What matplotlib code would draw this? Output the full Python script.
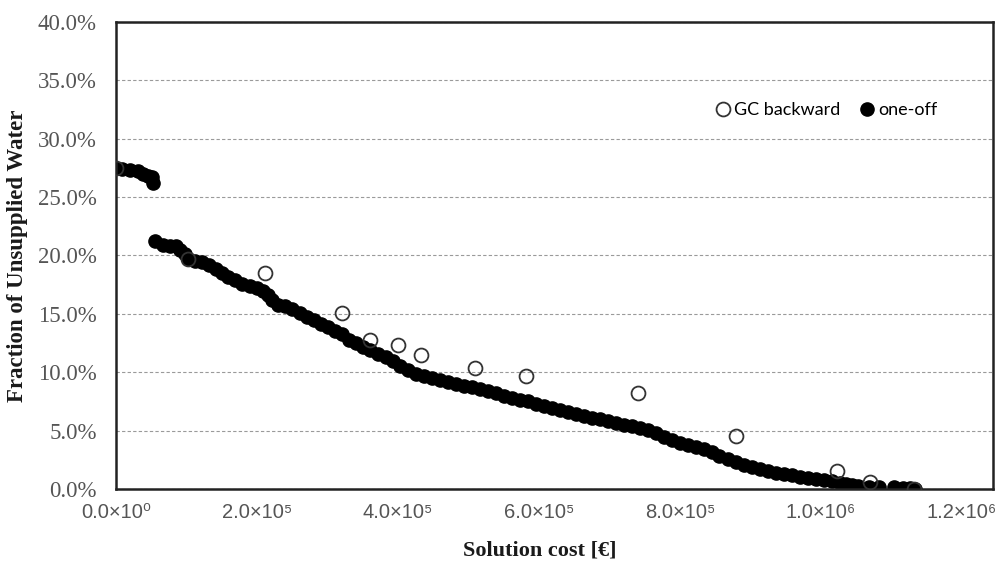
import matplotlib.pyplot as plt
from matplotlib.ticker import FuncFormatter, MultipleLocator

# one-off solutions: cost [EUR] vs fraction of unsupplied water [%]
one_off_cost = [0, 8.5e3, 19.9e3, 31.2e3, 38.3e3, 45.4e3, 51.1e3, 52.5e3,
                55.3e3, 66.6e3, 76.6e3, 85.1e3, 90.8e3, 97.9e3, 102e3, 112e3,
                122e3, 132e3, 142e3, 150e3, 159e3, 169e3, 179e3, 190e3,
                200e3, 208e3, 216e3, 221e3, 230e3, 240e3, 250e3, 261e3,
                271e3, 281e3, 291e3, 301e3, 311e3, 321e3, 331e3, 341e3,
                350e3, 360e3, 372e3, 383e3, 393e3, 403e3, 414e3, 426e3,
                437e3, 448e3, 460e3, 471e3, 482e3, 494e3, 505e3, 516e3,
                528e3, 539e3, 550e3, 562e3, 573e3, 584e3, 596e3, 607e3,
                618e3, 630e3, 641e3, 652e3, 664e3, 675e3, 686e3, 698e3,
                709e3, 720e3, 732e3, 743e3, 754e3, 766e3, 777e3, 789e3,
                800e3, 811e3, 822e3, 834e3, 845e3, 856e3, 868e3, 879e3,
                891e3, 902e3, 913e3, 925e3, 936e3, 947e3, 959e3, 970e3,
                981e3, 993e3, 1004e3, 1016e3, 1027e3, 1036e3, 1044e3, 1052e3,
                1068e3, 1082e3, 1103e3, 1116e3, 1126e3, 1134e3]
one_off_frac = [27.5, 27.4, 27.3, 27.2, 27.0, 26.8, 26.7, 26.2,
                21.2, 20.9, 20.8, 20.8, 20.5, 20.1, 19.7, 19.5,
                19.4, 19.2, 18.8, 18.5, 18.2, 17.9, 17.6, 17.4,
                17.2, 17.0, 16.6, 16.2, 15.8, 15.7, 15.4, 15.1,
                14.7, 14.5, 14.1, 13.9, 13.5, 13.3, 12.8, 12.5,
                12.2, 11.9, 11.6, 11.3, 11.0, 10.5, 10.2, 9.85,
                9.7, 9.5, 9.3, 9.2, 9.0, 8.8, 8.7, 8.6,
                8.4, 8.2, 8.0, 7.8, 7.6, 7.5, 7.3, 7.1,
                6.9, 6.8, 6.6, 6.4, 6.25, 6.1, 6.0, 5.8,
                5.65, 5.5, 5.4, 5.2, 5.05, 4.8, 4.45, 4.2,
                3.95, 3.75, 3.6, 3.4, 3.2, 2.85, 2.6, 2.3,
                2.05, 1.9, 1.7, 1.55, 1.4, 1.3, 1.2, 1.05,
                0.95, 0.85, 0.75, 0.7, 0.5, 0.4, 0.35, 0.25,
                0.2, 0.15, 0.15, 0.12, 0.08, 0.0]

# GC backward solutions
gc_cost = [0, 102e3, 211e3, 321e3, 360e3, 400e3, 433e3, 509e3, 582e3,
           740e3, 879e3, 1023e3, 1069e3, 1132e3]
gc_frac = [27.5, 19.7, 18.5, 15.1, 12.8, 12.3, 11.5, 10.4, 9.7,
           8.2, 4.5, 1.55, 0.6, 0.0]

x_ticks = [0, 2e5, 4e5, 6e5, 8e5, 1e6, 1.2e6]
x_tick_labels = ['0.0×10⁰', '2.0×10⁵', '4.0×10⁵', '6.0×10⁵', '8.0×10⁵',
                 '1.0×10⁶', '1.2×10⁶']

fig = plt.figure(figsize=(9.97, 5.67), dpi=100)
ax = fig.add_axes([0.1164, 0.1376, 0.8796, 0.8236])

ax.plot(gc_cost, gc_frac, 'o', markersize=10, markerfacecolor='none',
        markeredgecolor='#333333', markeredgewidth=1.3, label='GC backward', zorder=3)
ax.plot(one_off_cost, one_off_frac, 'o', markersize=9.5, color='black',
        markeredgecolor='black', label='one-off', zorder=2)

ax.set_xlim(0, 1.244e6)
ax.set_ylim(0, 40)

# dashed horizontal grid every 5%
ax.yaxis.set_major_locator(MultipleLocator(5))
ax.yaxis.grid(True, linestyle=(0, (3, 2)), color='#9a9a9a', linewidth=0.8)
ax.set_axisbelow(True)

ax.yaxis.set_major_formatter(FuncFormatter(lambda v, p: f'{v:.1f}%'))
ax.set_xticks(x_ticks)
ax.set_xticklabels(x_tick_labels)

for lab in ax.get_yticklabels():
    lab.set_family('Liberation Serif')
    lab.set_fontsize(16.5)
    lab.set_color('#555555')
for lab in ax.get_xticklabels():
    lab.set_family(['Liberation Sans', 'DejaVu Sans'])
    lab.set_fontsize(14.5)
    lab.set_color('#555555')
ax.tick_params(axis='y', length=0, pad=14)
ax.tick_params(axis='x', length=0, pad=10)

for s in ax.spines.values():
    s.set_color('#222222')
    s.set_linewidth(1.8)

ax.set_ylabel('Fraction of Unsupplied Water', family='Liberation Serif',
              fontweight='bold', fontsize=16.5, color='#1a1a1a')
ax.yaxis.set_label_coords(-0.100, 0.5)
ax.set_xlabel('Solution cost [€]', family='Liberation Serif',
              fontweight='bold', fontsize=16, color='#1a1a1a')
ax.xaxis.set_label_coords(0.483, -0.11)

leg = ax.legend(loc='center', bbox_to_anchor=(0.828, 0.806), bbox_transform=fig.transFigure,
                ncol=2, frameon=False, handletextpad=0.1, columnspacing=1.0,
                handlelength=1.0, prop={'family': 'Lato', 'size': 13})

fig.savefig('out.png', dpi=100, facecolor='white')
